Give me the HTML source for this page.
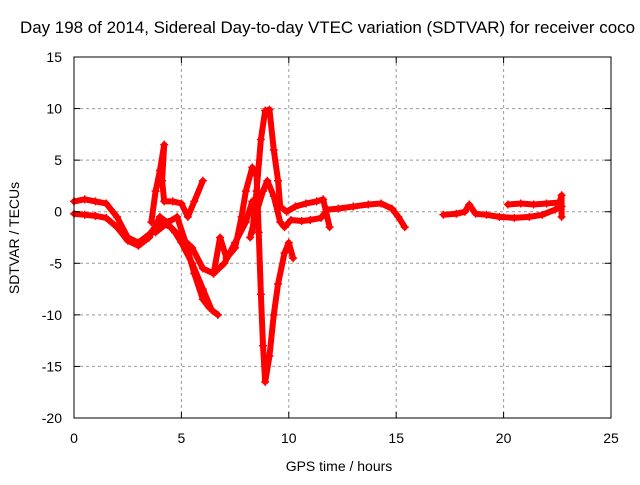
<!DOCTYPE html>
<html><head><meta charset="utf-8"><style>
body{margin:0;background:#fff}
svg text{font-family:"Liberation Sans",sans-serif;font-size:14px;fill:#000}
</style></head><body>
<svg id="chart" width="640" height="480" viewBox="0 0 640 480" xmlns="http://www.w3.org/2000/svg">
<text x="20" y="33" style="font-size:16.5px" textLength="615" lengthAdjust="spacingAndGlyphs">Day 198 of 2014, Sidereal Day-to-day VTEC variation (SDTVAR) for receiver coco</text>
<g id="grid"></g>
<g id="series"></g>
<rect x="74" y="57" width="537" height="361" fill="none" stroke="#000" stroke-width="1"/>
<g id="ticks"></g>
<text x="339" y="471" text-anchor="middle">GPS time / hours</text>
<text transform="translate(19,238) rotate(-90)" text-anchor="middle">SDTVAR / TECUs</text>
</svg>
<script>
const xTicks=[0,5,10,15,20,25];
const yTicks=[15,10,5,0,-5,-10,-15,-20];
const trackA=[[0,1],[0.5,1.2],[1,1],[1.5,0.8],[2,-0.5],[2.5,-2.5],[3,-3],[3.5,-2.2],[4,-1],[4.5,-1.5],[5,-2.5],[5.5,-3.5],[6,-5.5],[6.5,-6],[7,-5],[7.5,-3],[8,-1],[8.3,1]];
const trackB=[[0,-0.2],[0.5,-0.3],[1,-0.4],[1.5,-0.6],[2,-1.5],[2.5,-2.8],[3,-3.3],[3.5,-2.5],[4,-0.5],[4.3,-1],[4.7,-2],[5,-3],[5.5,-5],[6,-7.5],[6.4,-9.5],[6.7,-10]];
const trackC=[[3.6,-1],[3.8,2],[4,4],[4.2,6.5],[4.1,3],[4.2,1],[4.6,1],[5,0.8],[5.3,-0.5],[5.6,1],[6,3]];
const trackD=[[3.8,-2],[4.4,-1],[4.8,-0.5],[5.2,-3],[5.6,-6],[6,-8.5],[6.3,-9.3]];
const trackE=[[6.5,-6],[6.8,-2.5],[7.1,-4.5],[7.5,-3.5],[7.8,-0.5],[8,2],[8.3,4.3],[8.5,3.5],[8.6,-2],[8.7,-8],[8.8,-13],[8.9,-16.5],[9.1,-14],[9.3,-10],[9.5,-7],[9.8,-4],[10,-3],[10.2,-4.5]];
const trackF=[[8.3,-2],[8.5,2],[8.7,7],[8.9,9.8],[9.1,9.9],[9.3,6],[9.5,3],[9.6,0.5],[9.9,0],[10.3,0.5],[10.8,0.8],[11.3,1],[11.6,1.2],[11.9,-1.5]];
const trackG=[[8.2,-2.5],[8.5,0],[8.8,2],[9,3],[9.3,1.5],[9.6,-1],[9.8,-1.5],[10.1,-0.8],[10.6,-0.9],[11,-0.8],[11.5,-0.6],[11.8,0.2],[12.3,0.3],[13,0.5],[13.7,0.7],[14.3,0.8],[14.8,0.3],[15.1,-0.5],[15.4,-1.5]];
const trackH=[[17.2,-0.3],[17.8,-0.2],[18.2,0],[18.4,0.7],[18.7,-0.2],[19.2,-0.3],[19.8,-0.5],[20.5,-0.6],[21.2,-0.5],[21.8,-0.3],[22.4,0.2],[22.7,0.5]];
const trackI=[[20.2,0.7],[20.8,0.8],[21.4,0.7],[22,0.8],[22.6,0.9],[22.7,1.6],[22.7,-0.5]];
const tracks=[trackA,trackB,trackC,trackD,trackE,trackF,trackG,trackH,trackI];
const X=t=>74+t*(537/25);
const Y=v=>57+(15-v)*(361/35);
const NS="http://www.w3.org/2000/svg";
const grid=document.getElementById('grid'),ticks=document.getElementById('ticks'),ser=document.getElementById('series');
function mk(tag,attrs,parent){const e=document.createElementNS(NS,tag);for(const k in attrs)e.setAttribute(k,attrs[k]);parent.appendChild(e);return e;}
xTicks.forEach(t=>{const x=X(t);
 if(t>0&&t<25){const g=mk('line',{x1:x,y1:57,x2:x,y2:418,stroke:'#999','stroke-dasharray':'3,3'},grid);}
 const l=mk('text',{x:x,y:443,'text-anchor':'middle'},ticks);l.textContent=t;
 
 
 mk('line',{x1:x,y1:418,x2:x,y2:412,stroke:'#000'},ticks);mk('line',{x1:x,y1:57,x2:x,y2:63,stroke:'#000'},ticks);});
yTicks.forEach(v=>{const y=Y(v);
 if(v<15&&v>-20){const g=mk('line',{x1:74,y1:y,x2:611,y2:y,stroke:'#999','stroke-dasharray':'3,3'},grid);}
 const l=mk('text',{x:62,y:y+5,'text-anchor':'end'},ticks);l.textContent=v;
 
 
 mk('line',{x1:74,y1:y,x2:80,y2:y,stroke:'#000'},ticks);mk('line',{x1:611,y1:y,x2:605,y2:y,stroke:'#000'},ticks);});
tracks.forEach((tr,i)=>{
 const p=mk('polyline',{points:tr.map(d=>X(d[0])+','+Y(d[1])).join(' '),fill:'none',stroke:'#f00','stroke-width':6,'stroke-linejoin':'round','stroke-linecap':'round'},ser);
 
 
 tr.forEach(d=>{const x=X(d[0]),y=Y(d[1]);
  const m=mk('path',{d:`M${x-4},${y}H${x+4}M${x},${y-4}V${y+4}`,stroke:'#f00','stroke-width':1.5},ser);
  
  });
});
</script>
</body></html>
